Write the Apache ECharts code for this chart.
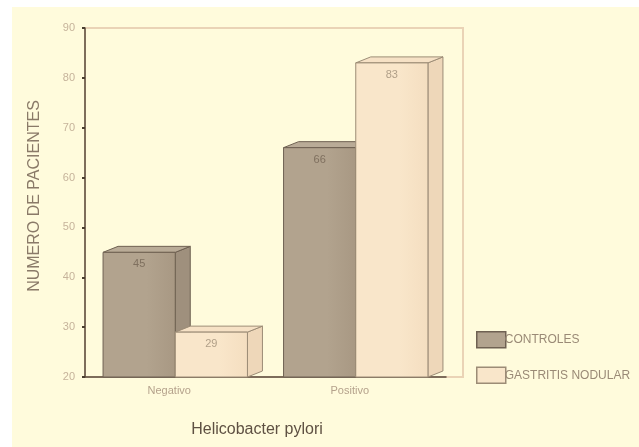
<!DOCTYPE html>
<html>
<head>
<meta charset="utf-8">
<script src="https://cdn.jsdelivr.net/npm/echarts@6/dist/echarts.min.js"></script>
<style>
html,body{margin:0;padding:0;background:#ffffff;}
#c{width:639px;height:447px;}
</style>
</head>
<body>
<div id="c"></div>
<script>
// ---- data ----
const categories = ['Negativo', 'Positivo'];
const seriesNames = ['CONTROLES', 'GASTRITIS NODULAR'];
const controles = [45, 66];
const gastritis = [29, 83];
const yTicks = { min: 20, max: 90, interval: 10 };

// ---- styles ----
const palette = [
  { front: '#b2a38e', frontDark: '#a89883', top: '#b9ab97', side: '#9f907d', stroke: '#6f6152', label: '#7f705f' },
  { front: '#f9e6ca', frontDark: '#f4dec0', top: '#f6e1c5', side: '#eed7b9', stroke: '#9c8c76', label: '#b09f88' }
];
const DX = 15, DY = 6;

function makeRender(sIdx) {
  return function (params, api) {
    const ci = api.value(0);
    const v = api.value(1);
    const topPt = api.coord([ci, v]);
    const basePt = api.coord([ci, yTicks.min]);
    const bandW = api.size([1, 0])[0];
    const barW = bandW * 0.4;
    const x0 = topPt[0] - barW + sIdx * barW;
    const x1 = x0 + barW;
    const yT = topPt[1];
    const yB = basePt[1];
    const c = palette[sIdx];
    return {
      type: 'group',
      children: [
        { type: 'polygon', shape: { points: [[x1, yT], [x1 + DX, yT - DY], [x1 + DX, yB - DY], [x1, yB]] },
          style: { fill: c.side, stroke: c.stroke, lineWidth: 1 } },
        { type: 'polygon', shape: { points: [[x0, yT], [x0 + DX, yT - DY], [x1 + DX, yT - DY], [x1, yT]] },
          style: { fill: c.top, stroke: c.stroke, lineWidth: 1 } },
        { type: 'rect', shape: { x: x0, y: yT, width: barW, height: yB - yT },
          style: {
            fill: new echarts.graphic.LinearGradient(0, 0, 1, 0, [
              { offset: 0, color: c.front }, { offset: 0.6, color: c.front }, { offset: 1, color: c.frontDark }
            ]),
            stroke: c.stroke, lineWidth: 1 } },
        { type: 'text', x: (x0 + x1) / 2, y: yT + 12,
          style: { text: String(v), fill: c.label, font: '11px "Liberation Sans", Arial, sans-serif',
                   align: 'center', verticalAlign: 'middle' } }
      ]
    };
  };
}

const chart = echarts.init(document.getElementById('c'), null, { renderer: 'canvas' });
chart.setOption({
  animation: false,
  backgroundColor: '#ffffff',
  textStyle: { fontFamily: '"Liberation Sans", Arial, sans-serif' },
  graphic: [
    { type: 'rect', z: -10, silent: true, shape: { x: 12, y: 7, width: 627, height: 440 }, style: { fill: '#fffbdc' } },
    { type: 'text', z: 10, x: 35, y: 196, rotation: Math.PI / 2,
      style: { text: 'NUMERO DE PACIENTES', fill: '#8a7a68', font: '16px "Liberation Sans", Arial, sans-serif',
               align: 'center', verticalAlign: 'middle' } },
    { type: 'text', z: 10, x: 257, y: 430,
      style: { text: 'Helicobacter pylori', fill: '#5e5042', font: '16px "Liberation Sans", Arial, sans-serif',
               align: 'center', verticalAlign: 'middle' } }
  ],
  legend: {
    orient: 'vertical', left: 471, top: 326, itemWidth: 29, itemHeight: 16, itemGap: 18,
    icon: 'rect',
    textStyle: { color: '#9a8a76', fontSize: 12, padding: [0, 0, 0, -6] },
    data: [
      { name: seriesNames[0], itemStyle: { color: palette[0].front, borderColor: palette[0].stroke, borderWidth: 1.5 } },
      { name: seriesNames[1], itemStyle: { color: palette[1].front, borderColor: palette[1].stroke, borderWidth: 1.5 } }
    ]
  },
  grid: [
    { left: 85, right: 193, top: 28, bottom: 70, show: false },
    { left: 85, right: 176, top: 28, bottom: 70, show: true, borderColor: '#ead3b6', borderWidth: 2, backgroundColor: 'transparent', z: 0 }
  ],
  xAxis: [
    { type: 'category', gridIndex: 0, data: categories, boundaryGap: true,
      axisLine: { lineStyle: { color: '#5a4b3c', width: 1.5 } },
      axisTick: { alignWithLabel: true, length: 3, lineStyle: { color: '#4a3d30', width: 2 } },
      axisLabel: { color: '#b5a28c', fontSize: 11, margin: 8, padding: [0, 12, 0, 0] } },
    { type: 'value', gridIndex: 1, show: false }
  ],
  yAxis: [
    { type: 'value', gridIndex: 0, min: yTicks.min, max: yTicks.max, interval: yTicks.interval,
      splitLine: { show: false },
      axisLine: { show: true, lineStyle: { color: '#5a4b3c', width: 1.5 } },
      axisTick: { show: true, length: 3, lineStyle: { color: '#4a3d30', width: 2 } },
      axisLabel: { color: '#c6b39b', fontSize: 11, margin: 10 } },
    { type: 'value', gridIndex: 1, show: false }
  ],
  series: [
    { name: seriesNames[0], type: 'custom', xAxisIndex: 0, yAxisIndex: 0, clip: false,
      itemStyle: { color: palette[0].front },
      data: controles.map((v, i) => [i, v]), renderItem: makeRender(0) },
    { name: seriesNames[1], type: 'custom', xAxisIndex: 0, yAxisIndex: 0, clip: false,
      itemStyle: { color: palette[1].front },
      data: gastritis.map((v, i) => [i, v]), renderItem: makeRender(1) }
  ]
});
</script>
</body>
</html>
